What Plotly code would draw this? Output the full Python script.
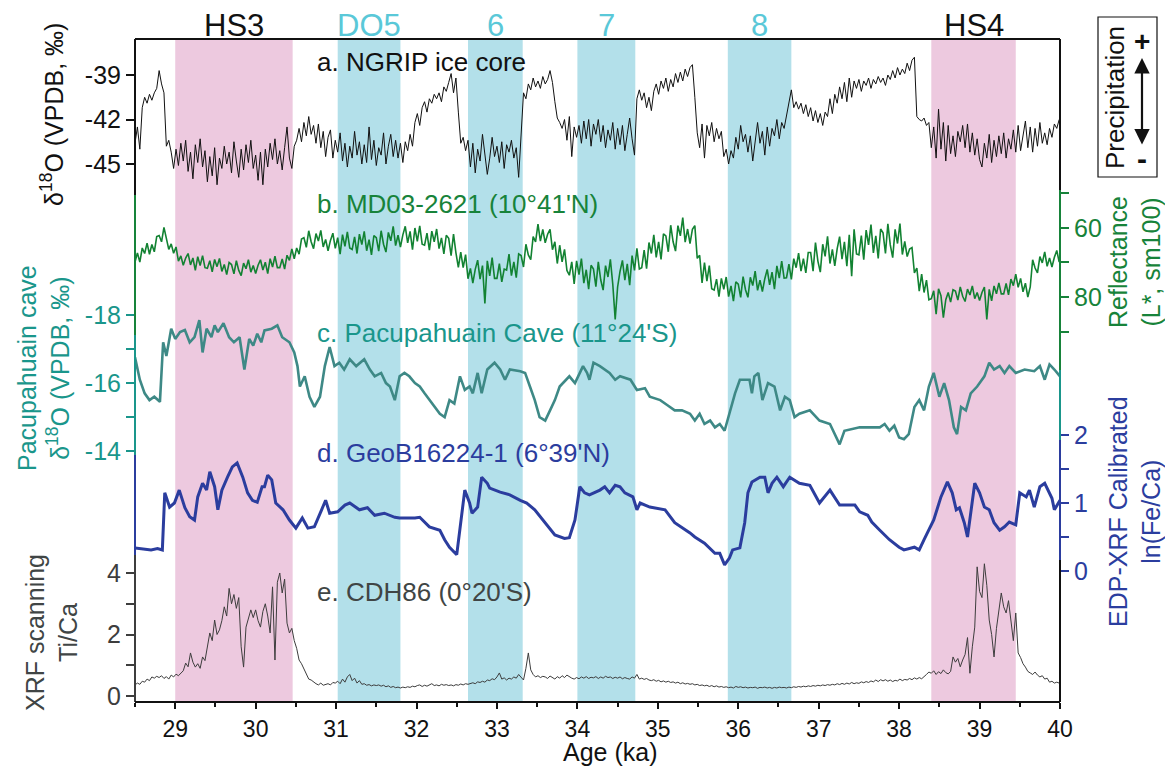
import plotly.graph_objects as go

# ---------------- data ----------------
# common age grid for the high-resolution records (ka)
dense_age = [
    28.5, 28.53, 28.56, 28.59, 28.62, 28.65, 28.68, 28.71, 28.74, 28.77,
    28.8, 28.83, 28.86, 28.89, 28.92, 28.95, 28.98, 29.01, 29.04, 29.07,
    29.1, 29.13, 29.16, 29.19, 29.22, 29.25, 29.28, 29.31, 29.34, 29.37,
    29.4, 29.43, 29.46, 29.49, 29.52, 29.55, 29.58, 29.61, 29.64, 29.67,
    29.7, 29.73, 29.76, 29.79, 29.82, 29.85, 29.88, 29.91, 29.94, 29.97,
    30.0, 30.03, 30.06, 30.09, 30.12, 30.15, 30.18, 30.21, 30.24, 30.27,
    30.3, 30.33, 30.36, 30.39, 30.42, 30.45, 30.48, 30.51, 30.54, 30.57,
    30.6, 30.63, 30.66, 30.69, 30.72, 30.75, 30.78, 30.81, 30.84, 30.87,
    30.9, 30.93, 30.96, 30.99, 31.02, 31.05, 31.08, 31.11, 31.14, 31.17,
    31.2, 31.23, 31.26, 31.29, 31.32, 31.35, 31.38, 31.41, 31.44, 31.47,
    31.5, 31.53, 31.56, 31.59, 31.62, 31.65, 31.68, 31.71, 31.74, 31.77,
    31.8, 31.83, 31.86, 31.89, 31.92, 31.95, 31.98, 32.01, 32.04, 32.07,
    32.1, 32.13, 32.16, 32.19, 32.22, 32.25, 32.28, 32.31, 32.34, 32.37,
    32.4, 32.43, 32.46, 32.49, 32.52, 32.55, 32.58, 32.61, 32.64, 32.67,
    32.7, 32.73, 32.76, 32.79, 32.82, 32.85, 32.88, 32.91, 32.94, 32.97,
    33.0, 33.03, 33.06, 33.09, 33.12, 33.15, 33.18, 33.21, 33.24, 33.27,
    33.3, 33.33, 33.36, 33.39, 33.42, 33.45, 33.48, 33.51, 33.54, 33.57,
    33.6, 33.63, 33.66, 33.69, 33.72, 33.75, 33.78, 33.81, 33.84, 33.87,
    33.9, 33.93, 33.96, 33.99, 34.02, 34.05, 34.08, 34.11, 34.14, 34.17,
    34.2, 34.23, 34.26, 34.29, 34.32, 34.35, 34.38, 34.41, 34.44, 34.47,
    34.5, 34.53, 34.56, 34.59, 34.62, 34.65, 34.68, 34.71, 34.74, 34.77,
    34.8, 34.83, 34.86, 34.89, 34.92, 34.95, 34.98, 35.01, 35.04, 35.07,
    35.1, 35.13, 35.16, 35.19, 35.22, 35.25, 35.28, 35.31, 35.34, 35.37,
    35.4, 35.43, 35.46, 35.49, 35.52, 35.55, 35.58, 35.61, 35.64, 35.67,
    35.7, 35.73, 35.76, 35.79, 35.82, 35.85, 35.88, 35.91, 35.94, 35.97,
    36.0, 36.03, 36.06, 36.09, 36.12, 36.15, 36.18, 36.21, 36.24, 36.27,
    36.3, 36.33, 36.36, 36.39, 36.42, 36.45, 36.48, 36.51, 36.54, 36.57,
    36.6, 36.63, 36.66, 36.69, 36.72, 36.75, 36.78, 36.81, 36.84, 36.87,
    36.9, 36.93, 36.96, 36.99, 37.02, 37.05, 37.08, 37.11, 37.14, 37.17,
    37.2, 37.23, 37.26, 37.29, 37.32, 37.35, 37.38, 37.41, 37.44, 37.47,
    37.5, 37.53, 37.56, 37.59, 37.62, 37.65, 37.68, 37.71, 37.74, 37.77,
    37.8, 37.83, 37.86, 37.89, 37.92, 37.95, 37.98, 38.01, 38.04, 38.07,
    38.1, 38.13, 38.16, 38.19, 38.22, 38.25, 38.28, 38.31, 38.34, 38.37,
    38.4, 38.43, 38.46, 38.49, 38.52, 38.55, 38.58, 38.61, 38.64, 38.67,
    38.7, 38.73, 38.76, 38.79, 38.82, 38.85, 38.88, 38.91, 38.94, 38.97,
    39.0, 39.03, 39.06, 39.09, 39.12, 39.15, 39.18, 39.21, 39.24, 39.27,
    39.3, 39.33, 39.36, 39.39, 39.42, 39.45, 39.48, 39.51, 39.54, 39.57,
    39.6, 39.63, 39.66, 39.69, 39.72, 39.75, 39.78, 39.81, 39.84, 39.87,
    39.9, 39.93, 39.96, 39.99,
]

# a. NGRIP ice core d18O (permil)
ngrip_d18o = [
    -43.6, -42.5, -44.0, -41.2, -40.5, -40.9, -40.3, -40.7, -40.2, -39.9,
    -38.7, -39.6, -40.2, -43.8, -43.4, -44.2, -45.3, -44.0, -45.1, -43.6,
    -44.8, -43.4, -45.5, -44.2, -46.0, -43.7, -44.9, -43.3, -45.2, -44.1,
    -46.2, -44.5, -45.8, -43.9, -46.4, -44.6, -45.3, -43.8, -45.0, -44.2,
    -45.6, -43.5, -44.8, -45.9, -44.0, -45.4, -43.7, -44.9, -43.4, -45.3,
    -44.4, -46.1, -44.2, -46.4, -44.0, -45.2, -43.6, -44.7, -43.3, -45.0,
    -44.1, -45.4, -43.9, -42.5, -44.6, -45.3, -43.8, -43.4, -42.6, -43.5,
    -42.2, -43.1, -41.8, -43.0, -42.4, -43.6, -42.3, -43.9, -42.8, -44.5,
    -43.2, -42.7, -44.6, -43.4, -44.2, -42.9, -44.8, -43.6, -45.2, -43.8,
    -44.6, -42.8, -44.4, -43.5, -45.0, -43.7, -44.9, -42.5, -44.7, -43.4,
    -45.1, -43.9, -44.4, -42.9, -45.0, -43.8, -43.0, -44.5, -43.4, -44.6,
    -43.6, -44.9, -43.5, -44.1, -43.0, -43.8, -42.2, -41.6, -42.4, -41.2,
    -40.8, -41.5, -40.6, -40.9, -40.3, -40.6, -40.2, -40.8, -39.8, -40.1,
    -39.5, -38.9, -40.2, -39.2, -41.5, -43.6, -43.2, -44.1, -43.4, -45.2,
    -43.6, -45.6, -44.0, -44.8, -43.0, -44.2, -45.7, -44.6, -43.2, -44.5,
    -43.8, -44.9, -43.5, -45.3, -43.7, -44.2, -43.4, -44.6, -43.9, -45.9,
    -42.8, -40.2, -40.6, -39.6, -40.0, -39.2, -39.8, -39.4, -39.9, -39.1,
    -39.6, -39.3, -38.7, -39.5, -40.8, -41.9, -42.2, -42.6, -42.0, -43.4,
    -41.8, -44.5, -42.5, -43.2, -42.4, -43.6, -42.1, -43.3, -42.0, -43.8,
    -42.3, -43.0, -42.0, -43.5, -42.4, -43.9, -42.7, -43.4, -42.2, -44.0,
    -42.6, -43.7, -42.4, -44.1, -43.0, -41.9, -43.3, -44.4, -40.6, -40.0,
    -40.7, -40.2, -41.2, -40.5, -41.4, -40.1, -39.6, -40.3, -39.4, -39.9,
    -39.2, -40.1, -39.3, -39.8, -38.9, -39.5, -38.8, -39.4, -38.6, -39.1,
    -38.5, -38.3, -40.5, -42.9, -43.9, -42.3, -44.6, -42.4, -43.1, -42.2,
    -43.5, -42.6, -43.3, -42.8, -44.5, -44.0, -45.0, -44.1, -44.6, -43.2,
    -44.0, -42.4, -43.5, -43.0, -44.2, -43.1, -44.8, -43.3, -42.2, -43.6,
    -42.8, -44.4, -42.5, -43.8, -42.6, -43.1, -42.0, -43.3, -42.2, -42.6,
    -41.8, -41.0, -40.0, -41.2, -40.8, -41.3, -40.9, -41.6, -41.0, -41.8,
    -41.2, -42.1, -41.4, -42.2, -41.6, -42.4, -41.5, -41.8, -40.6, -41.6,
    -40.3, -40.9, -39.8, -40.6, -39.5, -40.8, -39.2, -40.5, -39.4, -39.9,
    -39.3, -40.1, -39.4, -39.7, -39.2, -39.9, -39.3, -39.6, -39.1, -39.5,
    -39.2, -39.7, -39.0, -39.3, -38.7, -39.2, -38.5, -39.0, -38.6, -38.9,
    -38.2, -38.7, -38.0, -37.8, -41.8, -42.0, -42.1, -41.9, -42.4, -42.2,
    -43.9, -42.5, -44.6, -41.3, -44.0, -42.2, -44.8, -42.4, -44.3, -43.1,
    -44.5, -42.8, -43.5, -42.4, -43.9, -42.3, -44.2, -42.9, -44.4, -43.3,
    -44.7, -45.2, -43.6, -44.6, -43.0, -44.9, -43.4, -44.5, -43.1, -44.3,
    -42.9, -44.6, -43.3, -44.0, -42.7, -44.2, -42.4, -44.1, -43.0, -42.1,
    -43.9, -42.5, -44.2, -42.6, -43.8, -42.2, -43.6, -42.9, -43.7, -42.6,
    -43.2, -42.3, -42.6, -42.0,
]

# b. MD03-2621 reflectance (L*, sm100)
md03_lstar = [
    69.9, 67.2, 69.9, 65.8, 67.4, 64.4, 67.6, 64.8, 66.9, 62.5,
    62.2, 64.0, 59.8, 63.0, 66.2, 64.6, 67.3, 65.5, 69.6, 68.1,
    70.8, 68.7, 67.4, 70.7, 68.7, 72.3, 68.3, 70.9, 68.0, 71.5,
    71.7, 69.5, 72.7, 69.1, 71.2, 68.8, 72.6, 70.6, 73.5, 70.0,
    70.6, 73.3, 69.5, 72.3, 73.8, 70.2, 71.8, 69.2, 72.8, 70.9,
    73.2, 70.8, 69.2, 72.2, 69.9, 73.2, 68.9, 71.3, 68.2, 71.5,
    71.5, 69.0, 71.9, 67.9, 69.4, 66.1, 68.9, 65.8, 67.6, 63.2,
    62.8, 65.6, 60.8, 64.0, 66.0, 61.6, 63.8, 60.7, 65.5, 63.3,
    66.6, 63.6, 61.5, 65.9, 62.8, 67.6, 61.9, 65.3, 61.1, 65.8,
    66.2, 62.6, 67.4, 61.8, 64.8, 61.0, 66.6, 63.4, 67.8, 62.2,
    62.8, 66.7, 60.8, 64.7, 67.0, 61.3, 63.7, 59.5, 65.1, 62.1,
    65.5, 62.0, 59.5, 64.3, 61.0, 66.3, 60.0, 63.9, 59.4, 64.7,
    65.0, 61.5, 66.4, 60.9, 64.0, 60.3, 66.0, 62.9, 67.5, 62.1,
    63.0, 68.0, 61.8, 67.2, 71.4, 67.0, 71.5, 67.7, 74.7, 71.7,
    76.0, 72.0, 69.3, 74.8, 70.9, 81.9, 69.5, 73.9, 68.6, 74.6,
    74.6, 70.3, 75.6, 71.9, 72.2, 67.6, 73.8, 69.8, 74.4, 67.5,
    68.0, 71.3, 64.7, 67.8, 69.2, 62.5, 64.0, 58.9, 63.8, 60.4,
    64.3, 61.8, 60.4, 66.3, 64.0, 70.3, 65.0, 69.8, 66.2, 72.3,
    73.7, 69.8, 76.2, 69.5, 73.5, 68.9, 76.0, 72.1, 77.7, 70.8,
    71.9, 77.0, 69.8, 75.0, 78.0, 70.9, 74.2, 69.1, 76.3, 86.5,
    77.1, 72.6, 69.4, 75.1, 70.4, 76.6, 68.0, 72.3, 65.9, 71.9,
    71.5, 66.4, 71.8, 64.2, 67.4, 62.0, 68.5, 64.0, 69.1, 61.7,
    62.3, 66.9, 59.2, 64.0, 66.7, 59.3, 62.3, 57.0, 64.1, 60.3,
    64.5, 60.4, 59.3, 68.8, 67.9, 75.9, 70.0, 75.4, 70.9, 77.6,
    78.0, 74.8, 79.9, 74.6, 77.8, 74.2, 79.9, 76.8, 81.2, 75.6,
    76.3, 80.1, 74.1, 77.9, 80.1, 74.3, 76.7, 72.5, 78.1, 75.1,
    78.4, 74.7, 72.0, 76.5, 72.8, 77.7, 71.0, 74.5, 69.6, 74.5,
    74.4, 70.5, 74.9, 68.9, 71.5, 67.3, 72.5, 68.9, 73.0, 67.1,
    67.1, 72.5, 64.2, 69.6, 72.8, 64.7, 68.2, 62.4, 70.3, 66.2,
    71.0, 66.0, 62.5, 69.0, 64.0, 71.1, 62.0, 74.0, 60.4, 67.5,
    67.8, 62.2, 69.2, 60.6, 64.9, 59.0, 67.2, 62.3, 68.8, 60.3,
    61.4, 67.4, 58.8, 64.9, 68.6, 60.4, 64.5, 58.7, 67.7, 63.9,
    68.3, 66.1, 65.7, 73.0, 71.6, 78.3, 73.4, 78.7, 75.1, 80.8,
    80.5, 78.2, 85.0, 77.6, 79.6, 86.0, 80.8, 78.7, 81.5, 77.9,
    78.3, 80.9, 77.1, 79.8, 81.3, 77.7, 79.4, 76.8, 80.5, 78.7,
    81.0, 78.7, 77.1, 86.5, 77.8, 81.1, 76.8, 79.1, 75.9, 79.1,
    79.1, 76.1, 79.4, 74.8, 76.7, 73.4, 77.2, 74.6, 78.5, 76.0,
    80.0, 77.1, 69.2, 71.6, 73.0, 68.3, 70.1, 66.9, 71.1, 68.7,
    71.3, 68.5, 66.5, 69.9,
]

# e. CDH86 XRF scanning Ti/Ca
cdh86_tica = [
    0.36, 0.42, 0.38, 0.48, 0.45, 0.55, 0.50, 0.62, 0.58, 0.64,
    0.60, 0.66, 0.57, 0.63, 0.55, 0.68, 0.62, 0.71, 0.66, 0.75,
    0.82, 1.07, 0.95, 1.40, 1.10, 0.94, 1.05, 0.90, 1.27, 1.15,
    1.55, 2.05, 1.80, 2.47, 2.00, 2.15, 2.45, 2.90, 2.60, 3.50,
    3.00, 3.30, 2.85, 3.20, 1.60, 0.94, 2.24, 2.50, 2.80, 2.55,
    2.80, 2.45, 2.24, 2.75, 3.00, 2.60, 2.05, 3.55, 1.17, 3.70,
    4.00, 3.35, 3.80, 2.37, 2.05, 2.20, 1.80, 1.55, 1.17, 1.05,
    0.90, 0.75, 0.55, 0.52, 0.45, 0.40, 0.36, 0.42, 0.35, 0.38,
    0.40, 0.36, 0.44, 0.42, 0.48, 0.40, 0.55, 0.45, 0.62, 0.70,
    0.50, 0.58, 0.42, 0.50, 0.38, 0.40, 0.35, 0.37, 0.33, 0.36,
    0.34, 0.36, 0.32, 0.35, 0.30, 0.33, 0.28, 0.31, 0.27, 0.29,
    0.26, 0.29, 0.27, 0.30, 0.28, 0.32, 0.30, 0.34, 0.36, 0.31,
    0.35, 0.32, 0.37, 0.40, 0.34, 0.36, 0.33, 0.38, 0.35, 0.37,
    0.34, 0.36, 0.33, 0.37, 0.35, 0.39, 0.36, 0.40, 0.38, 0.41,
    0.43, 0.40, 0.46, 0.44, 0.48, 0.45, 0.52, 0.50, 0.56, 0.53,
    0.62, 0.75, 0.55, 0.59, 0.52, 0.58, 0.55, 0.62, 0.58, 0.70,
    0.60, 0.52, 0.90, 1.40, 0.85, 0.70, 0.62, 0.66, 0.60, 0.64,
    0.62, 0.57, 0.65, 0.60, 0.55, 0.63, 0.58, 0.66, 0.60, 0.68,
    0.62, 0.58, 0.55, 0.60, 0.56, 0.62, 0.58, 0.63, 0.57, 0.61,
    0.59, 0.63, 0.57, 0.62, 0.58, 0.64, 0.60, 0.62, 0.57, 0.61,
    0.58, 0.62, 0.56, 0.60, 0.57, 0.55, 0.62, 0.58, 0.70, 0.55,
    0.58, 0.54, 0.57, 0.52, 0.50, 0.53, 0.48, 0.51, 0.46, 0.49,
    0.45, 0.48, 0.44, 0.46, 0.42, 0.45, 0.40, 0.43, 0.39, 0.41,
    0.38, 0.40, 0.36, 0.38, 0.34, 0.36, 0.33, 0.35, 0.31, 0.34,
    0.30, 0.33, 0.29, 0.31, 0.28, 0.30, 0.27, 0.29, 0.26, 0.31,
    0.28, 0.30, 0.27, 0.29, 0.26, 0.28, 0.27, 0.29, 0.25, 0.28,
    0.27, 0.29, 0.26, 0.28, 0.25, 0.28, 0.26, 0.29, 0.27, 0.28,
    0.26, 0.29, 0.27, 0.30, 0.28, 0.31, 0.29, 0.32, 0.30, 0.33,
    0.31, 0.34, 0.32, 0.35, 0.33, 0.36, 0.34, 0.37, 0.35, 0.38,
    0.36, 0.40, 0.37, 0.41, 0.38, 0.42, 0.39, 0.44, 0.40, 0.43,
    0.41, 0.46, 0.43, 0.47, 0.44, 0.49, 0.46, 0.52, 0.47, 0.53,
    0.49, 0.53, 0.48, 0.52, 0.47, 0.51, 0.49, 0.55, 0.50, 0.54,
    0.52, 0.57, 0.53, 0.59, 0.55, 0.60, 0.56, 0.62, 0.70, 0.78,
    0.74, 0.82, 0.70, 0.79, 0.73, 0.85, 0.76, 0.72, 0.80, 1.27,
    1.10, 1.22, 0.95, 1.17, 1.35, 1.90, 0.74, 1.60, 2.24, 4.20,
    3.40, 3.20, 4.30, 3.60, 2.47, 2.00, 1.27, 2.20, 2.70, 3.35,
    2.90, 2.70, 3.10, 2.50, 1.80, 2.70, 1.40, 1.25, 1.05, 0.94,
    0.80, 0.75, 0.70, 0.78, 0.68, 0.62, 0.66, 0.55, 0.58, 0.45,
    0.48, 0.42, 0.45, 0.42,
]

# c. Pacupahuain Cave speleothem d18O
pacu_age = [
    28.50, 28.56, 28.62, 28.68, 28.74, 28.81, 28.85, 28.89, 28.95, 29.00,
    29.06, 29.12, 29.18, 29.24, 29.30, 29.34, 29.39, 29.45, 29.49, 29.53,
    29.60, 29.67, 29.73, 29.80, 29.86, 29.92, 29.97, 30.02, 30.07, 30.11,
    30.20, 30.27, 30.33, 30.42, 30.48, 30.52, 30.55, 30.61, 30.67, 30.73,
    30.80, 30.86, 30.92, 30.98, 31.04, 31.10, 31.17, 31.25, 31.35, 31.42,
    31.48, 31.56, 31.62, 31.67, 31.73, 31.79, 31.85, 31.91, 31.98, 32.04,
    32.10, 32.16, 32.22, 32.29, 32.35, 32.41, 32.47, 32.54, 32.60, 32.66,
    32.70, 32.76, 32.81, 32.88, 32.97, 33.04, 33.10, 33.16, 33.29, 33.35,
    33.41, 33.47, 33.53, 33.60, 33.66, 33.72, 33.78, 33.90, 33.97, 34.07,
    34.12, 34.15, 34.20, 34.28, 34.40, 34.47, 34.53, 34.66, 34.74, 34.84,
    34.90, 35.03, 35.12, 35.21, 35.30, 35.40, 35.46, 35.52, 35.58, 35.65,
    35.71, 35.77, 35.83, 35.96, 36.02, 36.14, 36.17, 36.20, 36.25, 36.30,
    36.37, 36.45, 36.52, 36.58, 36.64, 36.70, 36.76, 36.89, 37.01, 37.14,
    37.26, 37.32, 37.51, 37.76, 37.82, 37.88, 37.94, 38.00, 38.06, 38.12,
    38.19, 38.25, 38.31, 38.37, 38.43, 38.50, 38.56, 38.62, 38.68, 38.72,
    38.77, 38.83, 38.89, 38.97, 39.06, 39.12, 39.18, 39.25, 39.31, 39.37,
    39.45, 39.56, 39.68, 39.75, 39.81, 39.87, 39.93, 40.00,
]
pacu_d18o = [
    -16.76, -16.1, -15.7, -15.5, -15.6, -15.45, -17.2, -16.8, -17.6, -17.3,
    -17.5, -17.56, -17.2, -17.35, -17.85, -16.9, -17.6, -17.35, -17.7, -17.5,
    -17.76, -17.35, -17.2, -17.35, -16.4, -17.3, -17.1, -17.45, -17.2, -17.55,
    -17.6, -17.7, -17.35, -17.2, -16.9, -16.5, -15.9, -16.2, -15.6, -15.3,
    -15.6, -16.5, -17.06, -16.5, -16.6, -16.4, -16.7, -16.5, -16.7, -16.4,
    -16.2, -16.3, -16.0, -15.9, -15.5, -16.2, -16.3, -16.2, -16.0, -15.9,
    -15.7, -15.5, -15.3, -15.1, -15.0, -15.5, -15.4, -16.2, -15.8, -15.9,
    -15.7, -16.3, -15.7, -16.4, -16.6, -16.4, -16.1, -16.4, -16.35, -16.3,
    -15.9, -15.5, -15.0, -14.9, -15.2, -15.5, -15.9, -16.2, -16.0, -16.5,
    -16.3, -16.1, -16.6, -16.5, -16.3, -16.1, -16.2, -16.1, -15.8, -15.85,
    -15.6, -15.5, -15.35, -15.2, -15.2, -15.1, -14.9, -15.1, -14.8, -14.9,
    -14.7, -14.8, -14.6, -15.7, -16.1, -16.1, -15.7, -16.2, -16.3, -15.5,
    -16.0, -15.9, -15.2, -15.6, -15.5, -15.0, -15.1, -15.2, -14.9, -14.8,
    -14.2, -14.6, -14.7, -14.7, -14.8, -14.6, -14.75, -14.4, -14.35, -14.5,
    -15.3, -15.5, -15.2, -15.9, -16.3, -15.6, -16.0, -15.5, -14.7, -14.5,
    -15.3, -15.2, -15.7, -15.9, -16.2, -16.6, -16.4, -16.5, -16.3, -16.5,
    -16.3, -16.4, -16.35, -16.5, -16.1, -16.55, -16.4, -16.2,
]

# d. GeoB16224-1 EDP-XRF calibrated ln(Fe/Ca)
geob_age = [
    28.50, 28.60, 28.70, 28.78, 28.84, 28.87, 28.93, 28.99, 29.05, 29.12,
    29.18, 29.24, 29.28, 29.34, 29.39, 29.43, 29.49, 29.53, 29.58, 29.65,
    29.71, 29.77, 29.84, 29.90, 29.96, 30.02, 30.08, 30.11, 30.15, 30.20,
    30.25, 30.34, 30.42, 30.50, 30.58, 30.65, 30.73, 30.82, 30.87, 30.92,
    31.02, 31.11, 31.17, 31.29, 31.39, 31.48, 31.60, 31.73, 31.79, 31.98,
    32.04, 32.16, 32.29, 32.35, 32.41, 32.50, 32.54, 32.60, 32.66, 32.69,
    32.76, 32.81, 32.88, 32.91, 33.04, 33.16, 33.29, 33.37, 33.47, 33.60,
    33.66, 33.72, 33.84, 33.90, 33.97, 34.03, 34.09, 34.15, 34.28, 34.34,
    34.40, 34.47, 34.53, 34.59, 34.69, 34.74, 34.78, 34.90, 35.09, 35.21,
    35.40, 35.46, 35.58, 35.71, 35.77, 35.83, 35.89, 35.93, 36.02, 36.08,
    36.12, 36.17, 36.27, 36.33, 36.37, 36.42, 36.48, 36.56, 36.64, 36.76,
    36.89, 37.01, 37.14, 37.26, 37.45, 37.51, 37.61, 37.66, 37.76, 37.88,
    38.00, 38.06, 38.19, 38.25, 38.31, 38.43, 38.52, 38.60, 38.66, 38.71,
    38.75, 38.81, 38.85, 38.91, 38.94, 39.00, 39.06, 39.12, 39.18, 39.25,
    39.31, 39.37, 39.45, 39.50, 39.58, 39.62, 39.68, 39.75, 39.81, 39.90,
    39.93, 40.00,
]
geob_lnfeca = [
    0.34, 0.32, 0.31, 0.33, 0.31, 1.15, 0.94, 1.00, 1.19, 0.93,
    0.80, 0.75, 1.09, 1.29, 1.19, 1.46, 1.24, 0.90, 1.19, 1.38,
    1.53, 1.59, 1.38, 1.15, 1.04, 1.01, 1.24, 1.24, 1.41, 1.34,
    1.00, 0.90, 0.75, 0.63, 0.78, 0.63, 0.65, 0.90, 1.04, 0.85,
    0.87, 0.97, 1.00, 0.90, 0.93, 0.82, 0.85, 0.79, 0.78, 0.78,
    0.79, 0.65, 0.60, 0.46, 0.35, 0.24, 0.60, 1.19, 1.00, 0.85,
    0.94, 1.38, 1.29, 1.22, 1.16, 1.12, 1.04, 1.00, 0.90, 0.71,
    0.63, 0.53, 0.48, 0.49, 0.75, 1.24, 1.15, 1.12, 1.19, 1.24,
    1.15, 1.26, 1.24, 1.15, 1.09, 0.90, 1.00, 0.94, 0.90, 0.71,
    0.56, 0.50, 0.41, 0.26, 0.26, 0.09, 0.19, 0.31, 0.34, 0.71,
    1.15, 1.31, 1.38, 1.38, 1.15, 1.29, 1.38, 1.24, 1.38, 1.29,
    1.26, 1.00, 1.19, 0.97, 0.97, 0.87, 0.82, 0.72, 0.60, 0.46,
    0.35, 0.31, 0.35, 0.31, 0.46, 0.75, 1.09, 1.31, 1.15, 0.90,
    0.93, 0.71, 0.50, 1.00, 1.29, 1.15, 0.94, 0.90, 0.71, 0.60,
    0.65, 0.72, 0.68, 1.15, 1.09, 1.19, 0.94, 1.24, 1.29, 1.07,
    0.90, 1.04,
]

# climate events (shaded intervals, ka)
band_start = [29.0, 31.02, 32.64, 34.0, 35.87, 38.4]
band_end = [30.46, 31.8, 33.32, 34.72, 36.66, 39.45]
band_label = ["HS3", "DO5", "6", "7", "8", "HS4"]
band_kind = ["HS", "DO", "DO", "DO", "DO", "HS"]

# axis ticks
age_ticks = [29, 30, 31, 32, 33, 34, 35, 36, 37, 38, 39, 40]
age_minor = [28.5, 29.5, 30.5, 31.5, 32.5, 33.5, 34.5, 35.5, 36.5, 37.5, 38.5, 39.5]
ngrip_ticks = [-45, -42, -39]
md03_ticks = [60, 80]
md03_minor = [50, 70, 90]
pacu_ticks = [-18, -16, -14]
pacu_minor = [-17, -15]
geob_ticks = [0, 1, 2]
geob_minor = [0.5, 1.5]
cdh_ticks = [0, 2, 4]
cdh_minor = [1, 3]

assert len(dense_age) == len(ngrip_d18o) == len(md03_lstar) == len(cdh86_tica)
assert len(pacu_age) == len(pacu_d18o)
assert len(geob_age) == len(geob_lnfeca)

# ---------------- styling ----------------
FONT = "Liberation Sans, Arial, Helvetica, sans-serif"
BLACK = "#111111"
GREEN = "#17833a"
GREEN_LINE = "#128232"
TEAL = "#1a968b"
TEAL_LINE = "#3e8986"
BLUE = "#2b3d9e"
GREY = "#3d3d3d"
GREY_TXT = "#404545"
CYAN_TXT = "#5ac8d8"
PINK = "#edc9df"
CYAN = "#b3e0ea"

# the page body adds an 8 px offset; the figure is sized so the plot area lands
# on window pixels x 135..1060, y 39..702
OFF = 8
WIN_W, WIN_H = 1173, 769
PX_L, PX_R, PX_T, PX_B = 135, 1060, 39, 702
W, H = WIN_W - OFF, WIN_H - OFF
ML, MT = PX_L - OFF, PX_T - OFF
MR, MB = WIN_W - PX_R, WIN_H - PX_B
PW, PH = PX_R - PX_L, PX_B - PX_T


def fx(px):
    return (px - PX_L) / PW


def fy(py):
    return (PX_B - py) / PH


fig = go.Figure()
fig.add_trace(go.Scatter(x=dense_age, y=ngrip_d18o, mode="lines", xaxis="x", yaxis="y",
                         line=dict(color=BLACK, width=1), hoverinfo="skip"))
fig.add_trace(go.Scatter(x=dense_age, y=md03_lstar, mode="lines", xaxis="x", yaxis="y2",
                         line=dict(color=GREEN_LINE, width=1.6), hoverinfo="skip"))
fig.add_trace(go.Scatter(x=pacu_age, y=pacu_d18o, mode="lines", xaxis="x", yaxis="y3",
                         line=dict(color=TEAL_LINE, width=2.6), hoverinfo="skip"))
fig.add_trace(go.Scatter(x=geob_age, y=geob_lnfeca, mode="lines", xaxis="x", yaxis="y4",
                         line=dict(color=BLUE, width=3), hoverinfo="skip"))
fig.add_trace(go.Scatter(x=dense_age, y=cdh86_tica, mode="lines", xaxis="x", yaxis="y5",
                         line=dict(color=GREY, width=1), hoverinfo="skip"))


def yax(domain, rng, side, tickvals, minorvals, color):
    d = dict(domain=domain, range=rng, side=side, anchor="x", automargin=False,
             tickmode="array", tickvals=tickvals, ticktext=[str(v) for v in tickvals],
             ticks="outside", ticklen=8, tickwidth=1.5, tickcolor=color,
             tickfont=dict(family=FONT, size=25, color=color),
             showline=False, showgrid=False, zeroline=False, fixedrange=True)
    if minorvals:
        d["minor"] = dict(tickvals=minorvals, ticks="outside", ticklen=8,
                          tickwidth=1.5, tickcolor=color, showgrid=False)
    return d


layout_shapes = []
for s, e, k in zip(band_start, band_end, band_kind):
    layout_shapes.append(dict(type="rect", xref="x", yref="paper", x0=s, x1=e, y0=0, y1=1,
                              fillcolor=PINK if k == "HS" else CYAN, line=dict(width=0),
                              layer="below"))

# frame segments coloured like the axis they belong to
left_spine = [(39, 195, BLACK), (195, 335, GREEN), (335, 455, TEAL), (455, 555, BLUE), (555, 702, GREY)]
right_spine = [(39, 190, BLACK), (190, 370, GREEN), (370, 440, TEAL), (440, 560, BLUE), (560, 702, BLACK)]
for top, bot, c in left_spine:
    layout_shapes.append(dict(type="line", xref="paper", yref="paper", x0=0, x1=0,
                              y0=fy(bot), y1=fy(top), line=dict(color=c, width=2)))
for top, bot, c in right_spine:
    layout_shapes.append(dict(type="line", xref="paper", yref="paper", x0=1, x1=1,
                              y0=fy(bot), y1=fy(top), line=dict(color=c, width=2)))
layout_shapes.append(dict(type="line", xref="paper", yref="paper", x0=0, x1=1, y0=1, y1=1,
                          line=dict(color=BLACK, width=2)))
layout_shapes.append(dict(type="line", xref="paper", yref="paper", x0=0, x1=1, y0=0, y1=0,
                          line=dict(color=BLACK, width=2)))
# precipitation key box
layout_shapes.append(dict(type="rect", xref="paper", yref="paper", x0=fx(1098), x1=fx(1157),
                          y0=fy(177), y1=fy(17), line=dict(color=BLACK, width=1.2),
                          fillcolor="rgba(0,0,0,0)"))


def ann(text, px, py, color, size, angle=0, xanchor="center"):
    return dict(text=text, x=fx(px), y=fy(py), xref="paper", yref="paper", showarrow=False,
                textangle=angle, xanchor=xanchor, yanchor="middle",
                font=dict(family=FONT, size=size, color=color))


annotations = []
for s, e, lab, k in zip(band_start, band_end, band_label, band_kind):
    annotations.append(dict(text=lab, x=(s + e) / 2, y=fy(25), xref="x", yref="paper",
                            showarrow=False, xanchor="center", yanchor="middle",
                            font=dict(family=FONT, size=31, color=BLACK if k == "HS" else CYAN_TXT)))

annotations += [
    ann("a. NGRIP ice core", 315, 62, BLACK, 26, xanchor="left"),
    ann("b. MD03-2621 (10°41'N)", 315, 204, GREEN, 26, xanchor="left"),
    ann("c. Pacupahuain Cave (11°24'S)", 315, 333, TEAL, 26, xanchor="left"),
    ann("d. GeoB16224-1 (6°39'N)", 315, 453, BLUE, 26, xanchor="left"),
    ann("e. CDH86 (0°20'S)", 315, 592, GREY_TXT, 26, xanchor="left"),
    ann("δ<sup>18</sup>O (VPDB, ‰)", 52, 115, BLACK, 25, angle=-90),
    ann("Pacupahuain cave<br>δ<sup>18</sup>O (VPDB, ‰)", 43, 368, TEAL, 25, angle=-90),
    ann("XRF scanning<br>Ti/Ca", 51, 633, GREY_TXT, 25, angle=-90),
    ann("Reflectance<br>(L*, sm100)", 1134, 262, GREEN, 25, angle=-90),
    ann("EDP-XRF Calibrated<br>ln(Fe/Ca)", 1134, 512, BLUE, 25, angle=-90),
    ann("Age (ka)", 610, 752, BLACK, 25),
    ann("Precipitation", 1115, 98, BLACK, 26, angle=-90),
    ann("<b>+</b>", 1142, 42, BLACK, 28),
    ann("<b>-</b>", 1142, 158, BLACK, 30),
]
# double-headed arrow of the precipitation key
annotations.append(dict(x=fx(1142), y=fy(58), xref="paper", yref="paper", text="",
                        showarrow=True, ax=0, ay=88, axref="pixel", ayref="pixel",
                        arrowhead=2, arrowsize=1.4, arrowwidth=2.2, arrowcolor=BLACK,
                        arrowside="end+start", startarrowhead=2, startarrowsize=1.4))

fig.update_layout(
    width=W, height=H,
    margin=dict(l=ML, r=MR, t=MT, b=MB, autoexpand=False),
    paper_bgcolor="white", plot_bgcolor="rgba(0,0,0,0)",
    showlegend=False,
    font=dict(family=FONT, size=25, color=BLACK),
    xaxis=dict(range=[28.5, 40], anchor="y5", domain=[0, 1], automargin=False,
               tickmode="array", tickvals=age_ticks, ticktext=[str(v) for v in age_ticks],
               ticks="outside", ticklen=6, tickwidth=1.5, tickcolor=BLACK,
               tickfont=dict(family=FONT, size=23, color=BLACK),
               minor=dict(tickvals=age_minor, ticks="outside", ticklen=4, tickwidth=1.5,
                          tickcolor=BLACK, showgrid=False),
               showline=False, showgrid=False, zeroline=False, fixedrange=True),
    yaxis=yax([fy(195), 1.0], [-47.09, -36.57], "left", ngrip_ticks, None, BLACK),
    yaxis2=yax([fy(360), fy(190)], [98.26, 48.99], "right", md03_ticks, md03_minor, GREEN),
    yaxis3=yax([fy(460), fy(295)], [-13.74, -18.59], "left", pacu_ticks, pacu_minor, TEAL),
    yaxis4=yax([fy(578), fy(430)], [-0.103, 2.074], "right", geob_ticks, geob_minor, BLUE),
    yaxis5=yax([0.0, fy(555)], [-0.195, 4.585], "left", cdh_ticks, cdh_minor, GREY),
    shapes=layout_shapes,
    annotations=annotations,
)

fig.write_html("out.html")
